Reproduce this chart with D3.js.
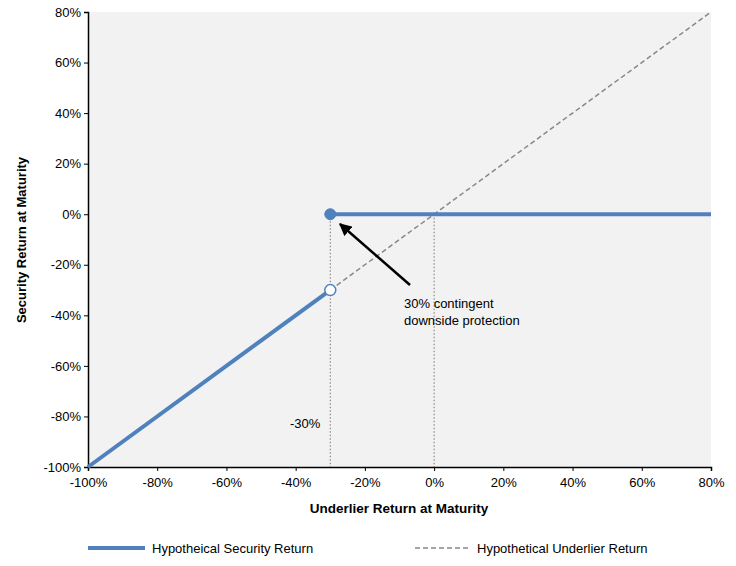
<!DOCTYPE html>
<html><head><meta charset="utf-8">
<script src="https://cdn.jsdelivr.net/npm/d3@7"></script>
<style>body{margin:0;background:#fff;font-family:"Liberation Sans",Arial,sans-serif;}</style>
</head><body><div id="chart"></div>
<script>
const xTicks = [-100, -80, -60, -40, -20, 0, 20, 40, 60, 80];
const yTicks = [-100, -80, -60, -40, -20, 0, 20, 40, 60, 80];
const securityLow = [[-100, -100], [-30, -30]];
const securityHigh = [[-30, 0], [80, 0]];
const underlier = [[-30, -30], [80, 80]];
const barrier = -30;

const width = 736, height = 566;
const svg = d3.select('#chart').append('svg').attr('width', width).attr('height', height);
const x = d3.scaleLinear().domain([-100, 80]).range([88, 711]);
const y = d3.scaleLinear().domain([-100, 80]).range([467, 12]);

svg.append('rect').attr('x', x(-100)).attr('y', y(80))
  .attr('width', x(80) - x(-100)).attr('height', y(-100) - y(80)).attr('fill', '#f2f2f2');

const fmt = d => d + '%';
const xa = svg.append('g').attr('transform', `translate(0,${y(-100)})`)
  .call(d3.axisBottom(x).tickValues(xTicks).tickFormat(fmt).tickSize(4));
const ya = svg.append('g').attr('transform', `translate(${x(-100)},0)`)
  .call(d3.axisLeft(y).tickValues(yTicks).tickFormat(fmt).tickSize(4));
[xa, ya].forEach(a => {
  a.selectAll('text').attr('font-size', 13).attr('fill', '#000').attr('font-family', '"Liberation Sans",Arial,sans-serif');
  a.select('.domain').attr('stroke', '#000').attr('stroke-width', 1.5);
});
xa.selectAll('text').attr('dy', '1.0em');

// guide lines
const guide = svg.append('g').attr('stroke', '#777').attr('stroke-dasharray', '1.5,2').attr('stroke-width', 1);
guide.append('line').attr('x1', x(barrier)).attr('x2', x(barrier)).attr('y1', y(0)).attr('y2', y(-100));
guide.append('line').attr('x1', x(0)).attr('x2', x(0)).attr('y1', y(0)).attr('y2', y(-100));

const line = d3.line().x(d => x(d[0])).y(d => y(d[1]));
svg.append('path').attr('d', line(underlier)).attr('fill', 'none')
  .attr('stroke', '#888').attr('stroke-width', 1.5).attr('stroke-dasharray', '5,3');
[securityLow, securityHigh].forEach(s => svg.append('path').attr('d', line(s))
  .attr('fill', 'none').attr('stroke', '#4f81bd').attr('stroke-width', 4));

svg.append('circle').attr('cx', x(-30)).attr('cy', y(-30)).attr('r', 5.5)
  .attr('fill', '#fff').attr('stroke', '#4f81bd').attr('stroke-width', 1.5);
svg.append('circle').attr('cx', x(-30)).attr('cy', y(0)).attr('r', 5.5)
  .attr('fill', '#4f81bd').attr('stroke', '#4f81bd');

// arrow
svg.append('defs').append('marker').attr('id', 'ah').attr('viewBox', '0 0 10 10')
  .attr('refX', 9).attr('refY', 5).attr('markerWidth', 5).attr('markerHeight', 5).attr('orient', 'auto')
  .append('path').attr('d', 'M0,0L10,5L0,10z').attr('fill', '#000');
svg.append('line').attr('x1', 410).attr('y1', 285).attr('x2', 340).attr('y2', 224)
  .attr('stroke', '#000').attr('stroke-width', 2.5).attr('marker-end', 'url(#ah)');

const t = (tx, ty, s, o = {}) => svg.append('text').attr('x', tx).attr('y', ty).text(s)
  .attr('font-size', o.size || 13).attr('font-weight', o.bold ? 'bold' : null)
  .attr('text-anchor', o.anchor || 'start');
t(404, 308, '30% contingent');
t(404, 325, 'downside protection');
t(290, 428, '-30%');
t(399, 513, 'Underlier Return at Maturity', {bold: true, anchor: 'middle', size: 13.5});
svg.append('text').attr('transform', 'translate(26,240) rotate(-90)').attr('text-anchor', 'middle')
  .attr('font-size', 13).attr('font-weight', 'bold').text('Security Return at Maturity');

// legend
svg.append('line').attr('x1', 88).attr('x2', 145).attr('y1', 548).attr('y2', 548)
  .attr('stroke', '#4f81bd').attr('stroke-width', 4);
t(152, 553, 'Hypotheical Security Return');
svg.append('line').attr('x1', 415).attr('x2', 470).attr('y1', 548).attr('y2', 548)
  .attr('stroke', '#888').attr('stroke-width', 1.5).attr('stroke-dasharray', '5,3');
t(477, 553, 'Hypothetical Underlier Return');
</script></body></html>
